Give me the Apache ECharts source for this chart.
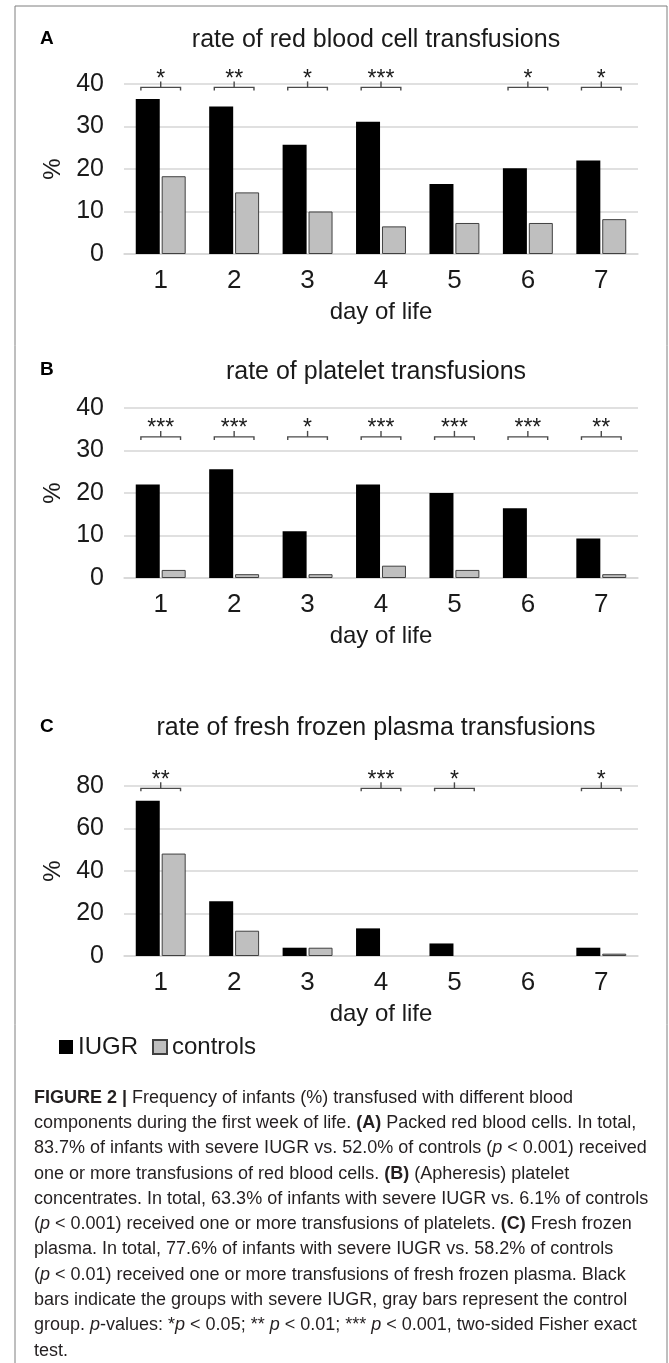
<!DOCTYPE html>
<html>
<head>
<meta charset="utf-8">
<script src="https://cdn.jsdelivr.net/npm/echarts@6/dist/echarts.min.js"></script>
<style>
html,body{margin:0;padding:0;background:#fff;}
#chart{width:669px;height:1363px;}
</style>
</head>
<body>
<div id="chart"></div>
<script>
// ---------- data ----------
var days = ['1', '2', '3', '4', '5', '6', '7'];

var rbcIUGR = [36.5, 34.7, 25.7, 31.1, 16.5, 20.2, 22.0];
var rbcCtrl = [18.3, 14.5, 10.0, 6.5, 7.3, 7.3, 8.2];
var rbcSig  = ['*', '**', '*', '***', '', '*', '*'];

var pltIUGR = [22.0, 25.6, 11.0, 22.0, 20.0, 16.4, 9.3];
var pltCtrl = [1.9, 0.9, 0.9, 2.9, 1.9, 0, 0.9];
var pltSig  = ['***', '***', '*', '***', '***', '***', '**'];

var ffpIUGR = [73.1, 25.8, 3.9, 13.0, 5.9, 0, 3.9];
var ffpCtrl = [48.2, 11.9, 3.9, 0, 0, 0, 1.1];
var ffpSig  = ['**', '', '', '***', '*', '', '*'];

var panelLetters = ['A', 'B', 'C'];
var panelTitles = ['rate of red blood cell transfusions', 'rate of platelet transfusions', 'rate of fresh frozen plasma transfusions'];
var seriesNames = ['IUGR', 'controls'];
var xName = 'day of life';
var yName = '%';

var captionLines = [
  '{b|FIGURE 2 |} Frequency of infants (%) transfused with different blood',
  'components during the first week of life. {b|(A)} Packed red blood cells. In total,',
  '83.7% of infants with severe IUGR vs. 52.0% of controls ({i|p} < 0.001) received',
  'one or more transfusions of red blood cells. {b|(B)} (Apheresis) platelet',
  'concentrates. In total, 63.3% of infants with severe IUGR vs. 6.1% of controls',
  '({i|p} < 0.001) received one or more transfusions of platelets. {b|(C)} Fresh frozen',
  'plasma. In total, 77.6% of infants with severe IUGR vs. 58.2% of controls',
  '({i|p} < 0.01) received one or more transfusions of fresh frozen plasma. Black',
  'bars indicate the groups with severe IUGR, gray bars represent the control',
  'group. {i|p}-values: *{i|p} < 0.05; ** {i|p} < 0.01; *** {i|p} < 0.001, two-sided Fisher exact',
  'test.'
];

// ---------- layout / style ----------
var FONT = 'Liberation Sans, Arial, Helvetica, sans-serif';
var TXT = '#1a1a1a';
var GRID_COLOR = '#d6d6d6';
var panels = [
  {iugr: rbcIUGR, ctrl: rbcCtrl, sig: rbcSig, max: 40, interval: 10, top: 84,  bracket: 39.2, titleY: 40,  letterY: 39},
  {iugr: pltIUGR, ctrl: pltCtrl, sig: pltSig, max: 40, interval: 10, top: 408, bracket: 33.2, titleY: 372, letterY: 370},
  {iugr: ffpIUGR, ctrl: ffpCtrl, sig: ffpSig, max: 80, interval: 20, top: 786, bracket: 78.9, titleY: 728, letterY: 727}
];

var grids = [], xAxes = [], yAxes = [], series = [], graphics = [];

function barData(arr) {
  // a zero rate draws no bar at all
  return arr.map(function (v) { return v === 0 ? '-' : v; });
}

function bracketRenderer(items) {
  return function (params, api) {
    var item = items[params.dataIndex];
    var c = api.coord([api.value(0), api.value(1)]);
    var hw = api.size([1, 0])[0] * 0.27;
    var stroke = '#4a4a4a';
    return {
      type: 'group',
      children: [
        {type: 'polyline', shape: {points: [[c[0] - hw, c[1] + 3], [c[0] - hw, c[1]], [c[0] + hw, c[1]], [c[0] + hw, c[1] + 3]]},
         style: {stroke: stroke, lineWidth: 1.4, fill: null}},
        {type: 'line', shape: {x1: c[0], y1: c[1], x2: c[0], y2: c[1] - 6}, style: {stroke: stroke, lineWidth: 1.4}},
        {type: 'text', x: c[0], y: c[1] - 8,
         style: {text: item.label, fill: TXT, fontSize: 23, fontFamily: FONT,
                 textAlign: 'center', textVerticalAlign: 'middle', align: 'center', verticalAlign: 'middle'}}
      ]
    };
  };
}

panels.forEach(function (p, k) {
  grids.push({left: 124, width: 514, top: p.top, height: 170, containLabel: false});
  xAxes.push({
    type: 'category', gridIndex: k, data: days,
    name: xName, nameLocation: 'middle', nameGap: 46,
    nameTextStyle: {fontSize: 24, color: TXT, fontFamily: FONT},
    axisLine: {show: true, lineStyle: {color: GRID_COLOR, width: 1.5}},
    axisTick: {show: false},
    axisLabel: {fontSize: 26, color: TXT, fontFamily: FONT, margin: 14}
  });
  yAxes.push({
    type: 'value', gridIndex: k, min: 0, max: p.max, interval: p.interval,
    name: yName, nameLocation: 'middle', nameGap: 55, nameRotate: 90,
    nameTextStyle: {fontSize: 24, color: TXT, fontFamily: FONT},
    axisLine: {show: false}, axisTick: {show: false},
    axisLabel: {fontSize: 25, color: TXT, fontFamily: FONT, margin: 20},
    splitLine: {show: true, lineStyle: {color: GRID_COLOR, width: 1.5}}
  });
  series.push({
    name: seriesNames[0], type: 'bar', xAxisIndex: k, yAxisIndex: k, data: barData(p.iugr),
    barWidth: 24, barGap: '8%',
    itemStyle: {color: '#000000', borderColor: '#000000', borderWidth: 0},
    z: 3
  });
  series.push({
    name: seriesNames[1], type: 'bar', xAxisIndex: k, yAxisIndex: k, data: barData(p.ctrl),
    barWidth: 24, barGap: '8%',
    itemStyle: {color: '#bfbfbf', borderColor: '#404040', borderWidth: 1},
    z: 3
  });
  var items = [];
  p.sig.forEach(function (s, i) { if (s) items.push({value: [i, p.bracket], label: s}); });
  series.push({
    type: 'custom', xAxisIndex: k, yAxisIndex: k, data: items,
    renderItem: bracketRenderer(items), clip: false, silent: true, z: 5,
    encode: {x: 0, y: 1}
  });
  graphics.push({type: 'text', x: 40, y: p.letterY,
    style: {text: panelLetters[k], fill: '#000', font: 'bold 19px ' + FONT, textAlign: 'left', textVerticalAlign: 'middle'}});
  graphics.push({type: 'text', x: 376, y: p.titleY,
    style: {text: panelTitles[k], fill: TXT, font: '25px ' + FONT, textAlign: 'center', textVerticalAlign: 'middle'}});
});

// outer frame (left, top, right edges; bottom runs off the page)
graphics.push({type: 'rect', shape: {x: 15, y: 6, width: 652, height: 1400},
  style: {fill: null, stroke: '#7f7f7f', lineWidth: 1}, z: -1});

var option = {
  backgroundColor: '#ffffff',
  animation: false,
  textStyle: {fontFamily: FONT},
  title: [{
    text: captionLines.join('\n'),
    left: 29, top: 1080,
    textStyle: {
      fontSize: 18, fontWeight: 'normal', color: '#231f20', fontFamily: FONT, lineHeight: 25.3,
      rich: {
        b: {fontSize: 18, fontWeight: 'bold', color: '#231f20', fontFamily: FONT, lineHeight: 25.3},
        i: {fontSize: 18, fontStyle: 'italic', color: '#231f20', fontFamily: FONT, lineHeight: 25.3}
      }
    }
  }],
  legend: {
    data: seriesNames, left: 54, top: 1030, orient: 'horizontal',
    itemWidth: 14, itemHeight: 14, itemGap: 14,
    icon: 'rect',
    textStyle: {fontSize: 24, color: TXT, fontFamily: FONT, padding: [0, 0, 0, 0]}
  },
  grid: grids,
  xAxis: xAxes,
  yAxis: yAxes,
  series: series,
  graphic: graphics
};

var chart = echarts.init(document.getElementById('chart'), null, {renderer: 'canvas'});
chart.setOption(option);
</script>
</body>
</html>
